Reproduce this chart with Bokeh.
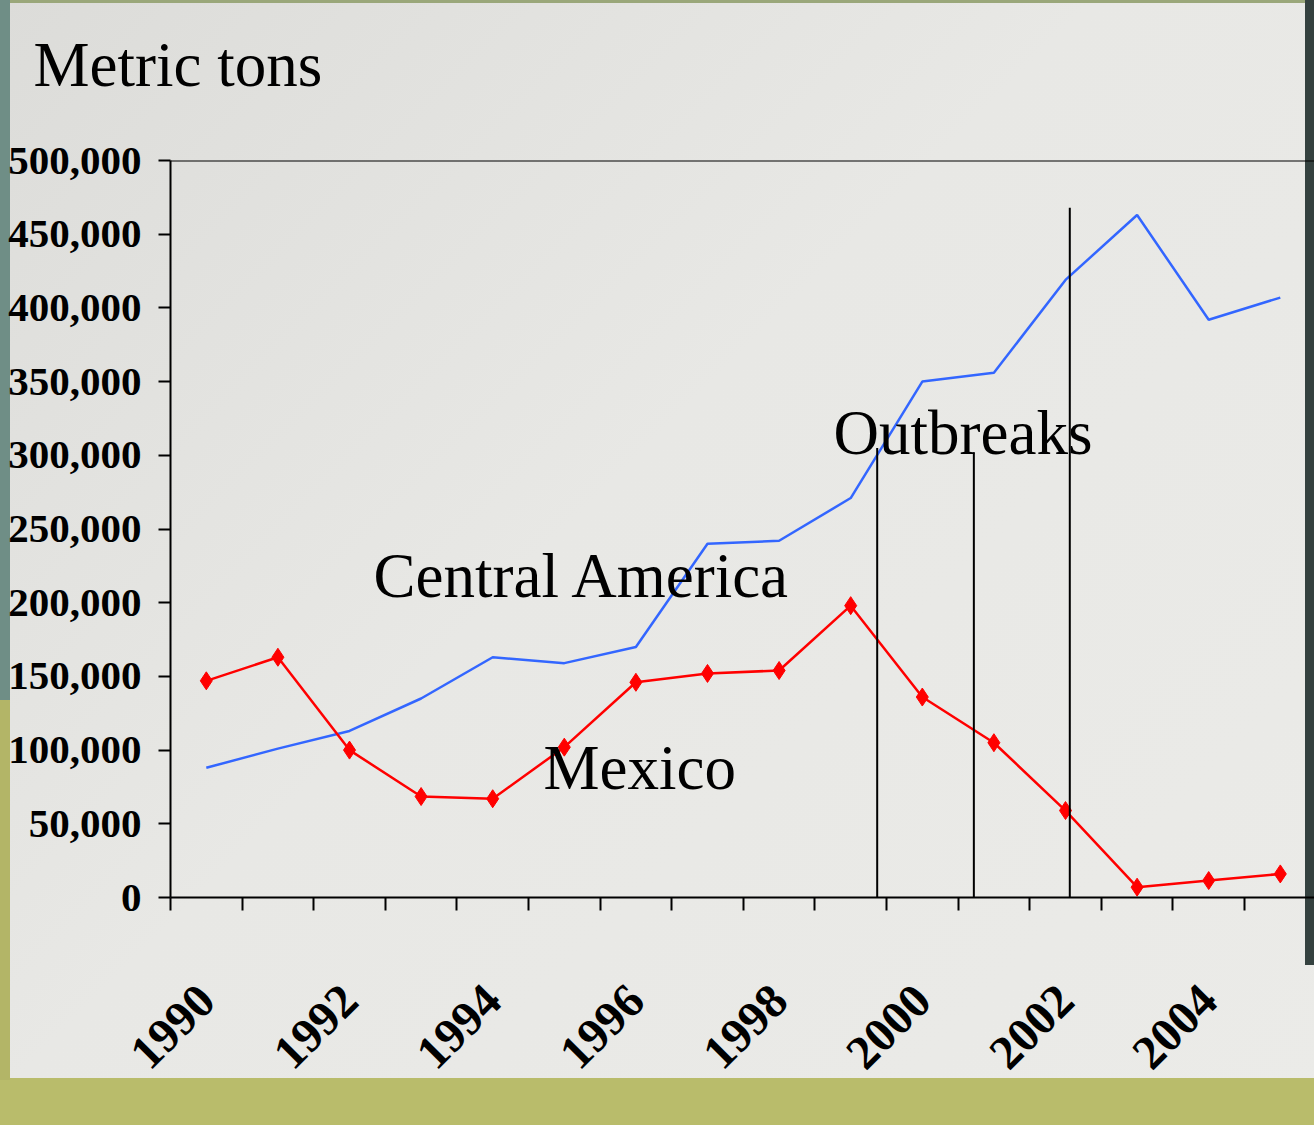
import math
from bokeh.plotting import figure
from bokeh.models import (Range1d, FixedTicker, NumeralTickFormatter, Label, Span,
                          ColumnDataSource, Title)
from bokeh.embed import file_html
from bokeh.resources import INLINE

# ---- data ----
years = list(range(1990, 2006))
central_america = [88000, 101000, 113000, 135000, 163000, 159000, 170000, 240000,
                   242000, 271000, 350000, 356000, 419000, 463000, 392000, 407000]
mexico = [147000, 163000, 100000, 68500, 67000, 102000, 146000, 152000,
          154000, 198000, 136000, 105000, 59000, 7000, 11500, 16000]
outbreak_year = [1999.37, 2000.72, 2002.06]
outbreak_top = [305000, 302000, 468000]
y_ticks = list(range(0, 500001, 50000))
x_label_years = [1990, 1992, 1994, 1996, 1998, 2000, 2002, 2004]

SERIF = "Liberation Serif"

p = figure(width=1314, height=1125, output_backend="svg", toolbar_location=None,
           x_range=Range1d(1989.5, 1989.5 + 1144 / 71.6), y_range=Range1d(0, 500000),
           min_border_left=170, min_border_top=160, min_border_bottom=228,
           min_border_right=0)
p.background_fill_color = None
p.border_fill_color = None
p.outline_line_color = None
p.styles = {"background":
            "linear-gradient(#34413f,#34413f) right top / 9px 965px no-repeat, "
            "linear-gradient(#6f8e86,#6f8e86) left top / 10px 700px no-repeat, "
            "linear-gradient(#b3b567,#b3b567) left 700px / 10px 380px no-repeat, "
            "linear-gradient(#b9bc6b,#b9bc6b) left bottom / 100% 47px no-repeat, "
            "linear-gradient(#9aa77a,#9aa77a) left top / 100% 3px no-repeat, "
            "linear-gradient(135deg, #dcdcd9 0%, #e8e8e5 45%, #ebebe8 100%)"}
p.grid.visible = False

# spacer title (nearest the frame) and the real "Metric tons" title above it
p.title.text = ""
p.add_layout(Title(text=" ", text_font=SERIF, text_font_size="40px", standoff=14), "above")
p.add_layout(Title(text="Metric tons", text_font=SERIF, text_font_style="normal",
                   text_font_size="63px", text_color="black", align="left",
                   offset=-137, standoff=0), "above")

# y axis
yax = p.yaxis[0]
yax.ticker = FixedTicker(ticks=y_ticks)
yax.formatter = NumeralTickFormatter(format="0,0")
yax.major_label_text_font = SERIF
yax.major_label_text_font_style = "bold"
yax.major_label_text_font_size = "41px"
yax.major_label_text_color = "black"
yax.major_tick_out = 12
yax.major_tick_in = 0
yax.minor_tick_out = 0
yax.minor_tick_in = 0
yax.major_tick_line_width = 2
yax.axis_line_width = 2
yax.major_label_standoff = 17

# x axis
xax = p.xaxis[0]
xax.ticker = FixedTicker(ticks=x_label_years, minor_ticks=[y - 0.5 for y in years])
xax.major_tick_out = 0
xax.major_tick_in = 0
xax.minor_tick_out = 13
xax.minor_tick_in = 0
xax.minor_tick_line_width = 2
xax.minor_tick_line_color = "black"
xax.axis_line_width = 2
xax.major_label_orientation = math.pi / 4
xax.major_label_text_font = SERIF
xax.major_label_text_font_style = "bold"
xax.major_label_text_font_size = "48px"
xax.major_label_text_color = "black"
xax.major_label_standoff = 82

# top border line
p.add_layout(Span(location=500000, dimension="width", line_color="black", line_width=2))

# series
src = ColumnDataSource(dict(year=years, ca=central_america, mx=mexico))
p.line("year", "ca", source=src, line_color="#3366ff", line_width=2.5)
p.line("year", "mx", source=src, line_color="#ff0000", line_width=2.5)
p.scatter("year", "mx", source=src, marker="diamond", size=18,
          fill_color="#ff0000", line_color="#ff0000")

# outbreak lines
p.segment(x0=outbreak_year, y0=[0] * len(outbreak_year), x1=outbreak_year, y1=outbreak_top,
          line_color="black", line_width=2)

# annotation texts
for txt, x, y in [("Central America", 1992.335, 217800),
                  ("Mexico", 1994.71, 87600),
                  ("Outbreaks", 1998.76, 315000)]:
    p.add_layout(Label(x=x, y=y, text=txt, text_font=SERIF, text_font_size="63px",
                       text_color="black", text_baseline="alphabetic", text_align="left"))

open("out.html", "w").write(file_html(p, INLINE))
